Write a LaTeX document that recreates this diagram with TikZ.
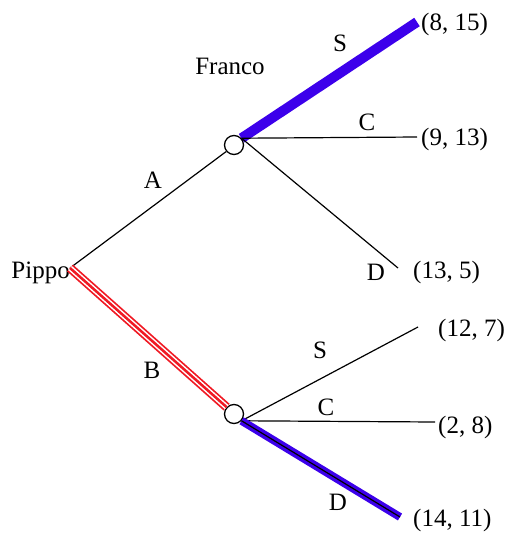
\documentclass[tikz,border=0pt]{standalone}
\usepackage{fontspec}
\setmainfont{Liberation Serif}
\usetikzlibrary{positioning}
\definecolor{optblue}{RGB}{60,0,235}
\definecolor{optred}{RGB}{240,25,35}

\begin{document}
\begin{tikzpicture}[
    x=1pt, y=-1pt,
    font=\fontsize{25}{30}\selectfont,
    chance/.style ={draw, circle, line width=1.3pt, fill=white,
                    minimum size=19pt, inner sep=0pt},
    branch/.style ={line width=1.2pt},
    best/.style   ={optblue, line width=10pt},
    redout/.style ={optred, line width=9pt},
    redgap/.style ={white, line width=5.5pt},
    redmid/.style ={optred, line width=2.5pt},
    payoff/.style ={anchor=west, inner sep=0pt},
    act/.style    ={inner sep=0pt}
]
\useasboundingbox (0,0) rectangle (510,536);

% --- players ---
\coordinate (pippo) at (70,268);
\node[anchor=east, inner sep=0pt] (pippoLbl) at (70,273) {Pippo};
\node[chance] (franco) at (234,145) {};
\node[act] (francoLbl) at (230,66) {Franco};
\node[chance] (nodeB) at (234,414) {};

% --- end points of branches ---
\coordinate (endAS) at (417,22);
\coordinate (endAC) at (417,137);
\coordinate (endAD) at (398,268);
\coordinate (endBS) at (418,327);
\coordinate (endBC) at (435,422);
\coordinate (endBD) at (400,517);

% --- payoffs ---
\node[payoff] (payAS) at (421,24)  {(8, 15)};
\node[payoff] (payAC) at (421,139) {(9, 13)};
\node[payoff] (payAD) at (413,272) {(13, 5)};
\node[payoff] (payBS) at (438,330) {(12, 7)};
\node[payoff] (payBC) at (438,427) {(2, 8)};
\node[payoff] (payBD) at (413,520) {(14, 11)};

% --- first move ---
\draw[branch] (pippo) -- (franco.220);
\draw[redout] (pippo) -- (nodeB.137);
\draw[redgap] (pippo) -- (nodeB.137);
\draw[redmid] (pippo) -- (nodeB.137);
\node[act] (labA) at (153,180) {A};
\node[act] (labB) at (152,370) {B};

% --- Franco after A ---
\draw[best] (franco.42) -- (endAS);
\draw[branch] (franco.42) -- (endAC);
\draw[branch] (franco.42) -- (endAD);
\node[act] (labAS) at (340,43)  {S};
\node[act] (labAC) at (367,122) {C};
\node[act] (labAD) at (376,272) {D};

% --- Franco after B ---
\draw[branch] (nodeB.-42) -- (endBS);
\draw[branch] (nodeB.-42) -- (endBC);
\draw[optblue, line width=8pt] (nodeB.-42) -- (endBD);
\draw[branch] (nodeB.-42) -- (endBD);
\node[act] (labBS) at (320,350) {S};
\node[act] (labBC) at (326,407) {C};
\node[act] (labBD) at (338,502) {D};

\end{tikzpicture}
\end{document}
